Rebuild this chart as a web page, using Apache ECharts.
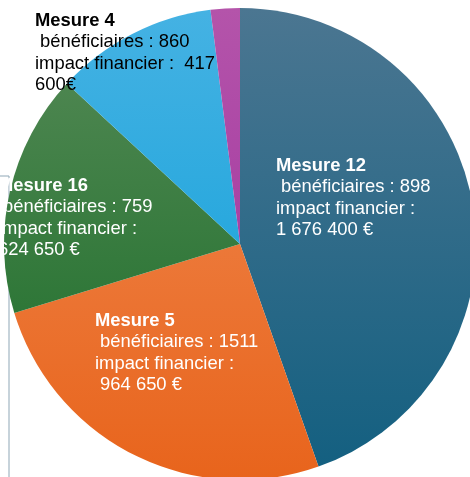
<!DOCTYPE html>
<html>
<head>
<meta charset="utf-8">
<script src="https://cdn.jsdelivr.net/npm/echarts@6/dist/echarts.min.js"></script>
<style>
  html, body { margin: 0; padding: 0; background: #fff; }
  #chart { width: 470px; height: 477px; }
</style>
</head>
<body>
<div id="chart"></div>
<script>
// données (impact financier en €)
var mesures = ['Mesure 12', 'Mesure 5', 'Mesure 16', 'Mesure 4', 'Autres'];
var impacts = [1676400, 964650, 624650, 417600, 75000];
var beneficiaires = [898, 1511, 759, 860, null];
// texte de l'impact tel qu'il est écrit dans l'étiquette
var impactTextes = ['impact financier :\n1 676 400 €', 'impact financier :\n 964 650 €', 'impact financier :\n624 650 €', 'impact financier :  417\n600€', ''];

var couleurs = [
    ['#4b7691', '#125f80'],
    ['#f08c55', '#e8641c'],
    ['#568a57', '#186c26'],
    ['#45b2e3', '#0a9ed8'],
    ['#b454aa', '#9c2c9c']
];
var couleursTexte = ['#fff', '#fff', '#fff', '#000', '#fff'];
// coin haut-gauche de chaque bloc de texte
var posEtiquettes = [[276, 155], [95, 310], [-2, 175], [35, 10], null];

var chart = echarts.init(document.getElementById('chart'));

var data = [];
for (var i = 0; i < mesures.length; i++) {
    data.push({
        name: mesures[i],
        value: impacts[i],
        itemStyle: {
            color: {
                type: 'linear', x: 0, y: 8, x2: 0, y2: 480, global: true,
                colorStops: [{offset: 0, color: couleurs[i][0]}, {offset: 1, color: couleurs[i][1]}]
            }
        },
        label: {
            show: beneficiaires[i] !== null,
            color: couleursTexte[i],
            rich: {
                t: {fontWeight: 'bold', fontSize: 18.4, lineHeight: 21.5, color: couleursTexte[i], fontFamily: 'Liberation Sans'},
                l: {fontSize: 18.4, lineHeight: 21.5, color: couleursTexte[i], fontFamily: 'Liberation Sans'}
            }
        }
    });
}

var option = {
    animation: false,
    graphic: [{
        type: 'rect',
        z: 0,
        shape: {x: -20, y: 176, width: 29, height: 320},
        style: {fill: 'none', stroke: '#8fa7b6', lineWidth: 1}
    }],
    series: [{
        type: 'pie',
        z: 2,
        center: [240, 244],
        radius: 236,
        startAngle: 90,
        clockwise: true,
        itemStyle: {borderWidth: 0},
        label: {
            position: 'inside',
            fontSize: 18.4,
            fontFamily: 'Liberation Sans',
            formatter: function (p) {
                var i = p.dataIndex;
                var lignes = ['{t|' + mesures[i] + '}'];
                lignes.push('{l| bénéficiaires : ' + beneficiaires[i] + '}');
                impactTextes[i].split('\n').forEach(function (s) {
                    lignes.push('{l|' + s + '}');
                });
                return lignes.join('\n');
            }
        },
        labelLine: {show: false},
        labelLayout: function (p) {
            var pos = posEtiquettes[p.dataIndex];
            if (!pos) return {};
            return {x: pos[0], y: pos[1], align: 'left', verticalAlign: 'top'};
        },
        emphasis: {disabled: true},
        data: data
    }]
};

chart.setOption(option);
</script>
</body>
</html>
